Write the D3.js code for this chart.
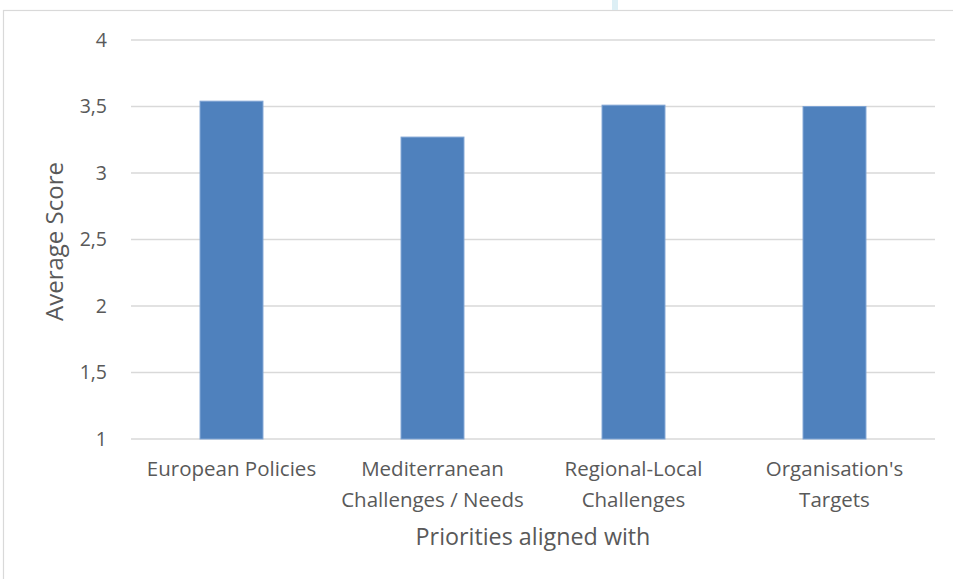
<!DOCTYPE html>
<html>
<head>
<meta charset="utf-8">
<script src="https://cdn.jsdelivr.net/npm/d3@7"></script>
<style>
  html, body { margin: 0; padding: 0; background: #ffffff; }
  svg { display: block; }
  text { font-family: "Open Sans", Lato, sans-serif; fill: #595959; }
</style>
</head>
<body>
<svg id="chart" width="953" height="579"></svg>
<script>
// Average score per priority category
const categories = [
  ["European Policies"],
  ["Mediterranean", "Challenges / Needs"],
  ["Regional-Local", "Challenges"],
  ["Organisation's", "Targets"]
];
const scores = [3.54, 3.27, 3.51, 3.50];
const yTicks = [1, 1.5, 2, 2.5, 3, 3.5, 4];
const yTitle = "Average Score";
const xTitle = "Priorities aligned with";

const svg = d3.select("#chart");
const W = 953, H = 579;
const margin = { left: 131, right: 18, top: 40, bottom: 140 };
const FONT = "'Open Sans', Lato, sans-serif";

// Chart area frame
svg.append("rect")
  .attr("x", 3.5).attr("y", 10.5)
  .attr("width", W + 10).attr("height", H + 10)
  .attr("fill", "#ffffff")
  .attr("stroke", "#d9d9d9").attr("stroke-width", 1.2);

// small light-blue strip above the frame
svg.append("rect")
  .attr("x", 612).attr("y", 0).attr("width", 6).attr("height", 10)
  .attr("fill", "#ddeff5");

const x = d3.scaleBand()
  .domain(d3.range(categories.length))
  .range([margin.left, W - margin.right])
  .paddingInner(0.687)
  .paddingOuter(0.3435);

const y = d3.scaleLinear()
  .domain([1, 4])
  .range([H - margin.bottom, margin.top]);

// Gridlines
svg.append("g")
  .selectAll("line")
  .data(yTicks)
  .join("line")
  .attr("x1", margin.left).attr("x2", W - margin.right)
  .attr("y1", d => y(d)).attr("y2", d => y(d))
  .attr("stroke", "#d9d9d9").attr("stroke-width", 1.3);

// Y axis tick labels
const fmt = d => String(d).replace(".", ",");
const yAxis = d3.axisLeft(y).tickValues(yTicks).tickFormat(fmt).tickSize(0).tickPadding(24);
const yg = svg.append("g").attr("transform", `translate(${margin.left},0)`).call(yAxis);
yg.select(".domain").remove();
yg.selectAll("text")
  .attr("font-size", 19.5)
  .style("font-family", FONT)
  .attr("fill", "#595959");

// Bars
svg.append("g")
  .selectAll("rect")
  .data(scores)
  .join("rect")
  .attr("x", (d, i) => x(i))
  .attr("y", d => y(d))
  .attr("width", x.bandwidth())
  .attr("height", d => y(1) - y(d))
  .attr("fill", "#4f81bd")
  .attr("stroke", "#7ea3d3")
  .attr("stroke-width", 1);

// Category labels
const catG = svg.append("g");
categories.forEach((lines, i) => {
  const t = catG.append("text")
    .attr("x", x(i) + x.bandwidth() / 2)
    .attr("y", 476)
    .attr("text-anchor", "middle")
    .attr("font-size", 20.5);
  lines.forEach((ln, k) => {
    t.append("tspan")
      .attr("x", x(i) + x.bandwidth() / 2)
      .attr("dy", k === 0 ? 0 : 30.5)
      .text(ln);
  });
});

// Axis titles
svg.append("text")
  .attr("x", (margin.left + W - margin.right) / 2)
  .attr("y", 545)
  .attr("text-anchor", "middle")
  .attr("font-size", 23.3)
  .text(xTitle);

svg.append("text")
  .attr("transform", `translate(63,${(y(1) + y(4)) / 2 + 2}) rotate(-90)`)
  .attr("text-anchor", "middle")
  .attr("font-size", 24)
  .text(yTitle);
</script>
</body>
</html>
